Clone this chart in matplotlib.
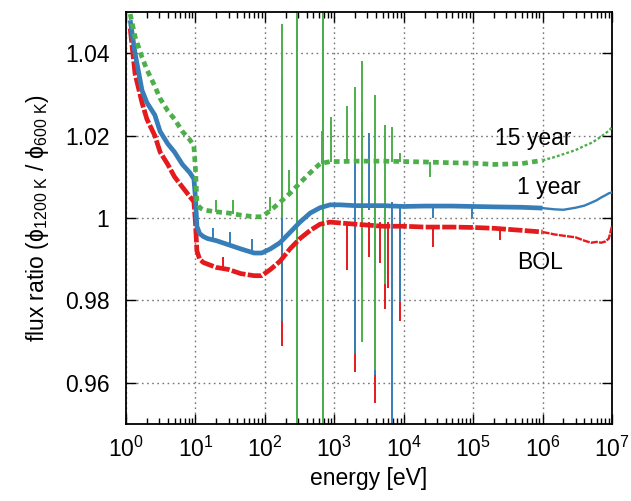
import matplotlib
matplotlib.use("Agg")
import numpy as np
import matplotlib.pyplot as plt
from matplotlib.ticker import FixedLocator, FuncFormatter, LogLocator, NullFormatter

plt.rcParams["font.family"] = ["Liberation Sans", "DejaVu Sans"]
plt.rcParams["mathtext.fontset"] = "custom"
plt.rcParams["mathtext.rm"] = "Liberation Sans"
plt.rcParams["mathtext.it"] = "Liberation Sans:italic"
plt.rcParams["mathtext.bf"] = "Liberation Sans:bold"

# energy grid [eV]
energy = [1.15, 1.35, 1.7, 2.0, 2.6, 3.1, 4.0, 5.0, 6.5, 8.3,
          9.5, 10.0, 10.5, 11.5, 13, 15, 20, 30, 45, 70,
          90, 120, 165, 230, 320, 450, 625, 870, 1.2e3, 2e3,
          5e3, 1e4, 2e4, 5e4, 1e5, 2e5, 5e5, 1e6, 1.5e6, 2e6,
          3e6, 4e6, 5e6, 6e6, 7e6, 8e6, 9e6, 1e7]

# flux ratio phi(1200 K) / phi(600 K)
ratio_bol = [1.046, 1.035, 1.028, 1.024, 1.020, 1.016, 1.013, 1.010, 1.0075, 1.0052,
             1.004, 0.999, 0.992, 0.990, 0.9892, 0.9888, 0.988, 0.9875, 0.9865, 0.986,
             0.986, 0.9875, 0.9895, 0.9925, 0.995, 0.997, 0.9985, 0.999, 0.9988, 0.9985,
             0.998, 0.998, 0.9978, 0.9978, 0.9977, 0.9975, 0.997, 0.9966, 0.996, 0.9957,
             0.9953, 0.9945, 0.994, 0.9942, 0.994, 0.9943, 0.995, 0.998]
ratio_1y = [1.048, 1.040, 1.031, 1.028, 1.025, 1.021, 1.018, 1.016, 1.013, 1.011,
            1.0095, 1.005, 0.998, 0.9962, 0.9955, 0.995, 0.9945, 0.9935, 0.9925, 0.9915,
            0.9915, 0.9925, 0.994, 0.9965, 0.999, 1.0012, 1.0025, 1.0032, 1.0032, 1.003,
            1.003, 1.0028, 1.0029, 1.0029, 1.0028, 1.0027, 1.0026, 1.0024, 1.0021, 1.002,
            1.0025, 1.003, 1.0037, 1.0043, 1.005, 1.0055, 1.006, 1.0062]
ratio_15y = [1.0495, 1.044, 1.039, 1.036, 1.032, 1.029, 1.026, 1.024, 1.021, 1.019,
             1.0175, 1.012, 1.004, 1.0025, 1.002, 1.0018, 1.0015, 1.0012, 1.0007, 1.0003,
             1.0003, 1.0018, 1.0038, 1.006, 1.0085, 1.011, 1.0132, 1.0137, 1.0137, 1.0138,
             1.0138, 1.0137, 1.0136, 1.0134, 1.0133, 1.013, 1.0132, 1.014, 1.0148, 1.0155,
             1.0165, 1.0175, 1.0182, 1.019, 1.0198, 1.0205, 1.0212, 1.022]

# resonance and fluctuation excursions: energy, lower and upper extent
res_bol_e = [25, 177, 288, 690, 1520, 2000, 2500, 3200, 3900, 4600, 5400, 6000, 8900, 2.6e4, 2.4e5]
res_bol_lo = [0.9875, 0.969, 0.95, 0.95, 0.9874, 0.9625, 0.983, 0.9906, 0.955, 0.989, 0.978, 0.983, 0.975, 0.993, 0.9947]
res_bol_hi = [0.9906, 0.989, 1.05, 1.05, 0.999, 0.999, 0.999, 0.999, 0.999, 0.999, 0.999, 0.999, 0.999, 0.998, 0.9975]

res_1y_e = [18, 31, 65, 177, 288, 690, 2000, 2500, 3200, 3900, 5400, 6800, 8900, 2.6e4, 9.6e4]
res_1y_lo = [0.9945, 0.9935, 0.9915, 0.975, 0.95, 0.95, 0.967, 0.9857, 1.002, 0.962, 0.984, 0.95, 0.9795, 1.000, 1.000]
res_1y_hi = [0.9976, 0.9966, 0.995, 1.034, 1.05, 1.05, 1.0196, 1.026, 1.0206, 1.003, 1.003, 1.004, 1.003, 1.003, 1.003]

res_15y_e = [20, 35, 120, 177, 225, 288, 660, 690, 900, 1520, 2000, 2500, 3900, 5400, 6800, 8900, 2.4e4]
res_15y_lo = [1.0015, 1.0010, 1.0018, 1.000, 1.006, 0.95, 1.013, 0.95, 1.0136, 1.0136, 1.0136, 0.970, 0.963, 0.984, 1.0136, 1.0136, 1.010]
res_15y_hi = [1.0044, 1.0044, 1.005, 1.047, 1.0116, 1.05, 1.021, 1.05, 1.0245, 1.0273, 1.0317, 1.038, 1.0298, 1.0225, 1.022, 1.0157, 1.0136]

labels = ["BOL", "1 year", "15 year"]
colors = ["#e41a1c", "#377eb8", "#4daf4a"]

fig = plt.figure(figsize=(6.31, 5.01), dpi=100)
ax = fig.add_axes([126 / 631, 77 / 501, 486 / 631, 412 / 501])

E = np.array(energy)
series = [
    (ratio_bol, res_bol_e, res_bol_lo, res_bol_hi, (3.0, 0.5)),
    (ratio_1y, res_1y_e, res_1y_lo, res_1y_hi, None),
    (ratio_15y, res_15y_e, res_15y_lo, res_15y_hi, (1.2, 0.9)),
]
for (vals, re, rlo, rhi, dashes), col in zip(series, colors):
    v = np.array(vals)
    low = E <= 1e6
    high = E >= 1e6
    kw = {} if dashes is None else {"dashes": dashes}
    ax.vlines(re, rlo, rhi, color=col, lw=1.4, zorder=2)
    ax.plot(E[low], v[low], color=col, lw=3.4, solid_capstyle="butt", zorder=3, **kw)
    ax.plot(E[high], v[high], color=col, lw=1.7, zorder=3, **kw)

ax.set_xscale("log")
ax.set_xlim(1, 1e7)
ax.set_ylim(0.95, 1.05)
ax.xaxis.set_major_locator(LogLocator(base=10, numticks=20))
ax.xaxis.set_minor_locator(LogLocator(base=10, subs=np.arange(2, 10), numticks=100))
ax.xaxis.set_minor_formatter(NullFormatter())
ax.yaxis.set_major_locator(FixedLocator([0.96, 0.98, 1.0, 1.02, 1.04]))
ax.yaxis.set_major_formatter(FuncFormatter(lambda val, pos: f"{val:g}"))

ax.grid(True, which="major", color="#777777", linestyle=(0, (1.2, 2.5)), lw=1.0)
ax.tick_params(which="both", direction="in", top=True, right=True, labelsize=16.5, width=1.0)
ax.tick_params(which="major", length=7)
ax.tick_params(which="minor", length=4)
ax.tick_params(axis="y", pad=12)
ax.tick_params(axis="x", pad=9)
for s in ax.spines.values():
    s.set_linewidth(1.3)

ax.set_xlabel("energy [eV]", fontsize=16.5, labelpad=4)
ax.set_ylabel(r"flux ratio ($\mathrm{\phi}_{\mathrm{1200\ K}}$ / $\mathrm{\phi}_{\mathrm{600\ K}}$)",
              fontsize=16.5, labelpad=10)

ax.text(10 ** 5.87, 1.0194, labels[2], fontsize=16.5, ha="center", va="center")
ax.text(10 ** 6.09, 1.0073, labels[1], fontsize=16.5, ha="center", va="center")
ax.text(10 ** 5.96, 0.9893, labels[0], fontsize=16.5, ha="center", va="center")

fig.savefig("out.png", dpi=100)
